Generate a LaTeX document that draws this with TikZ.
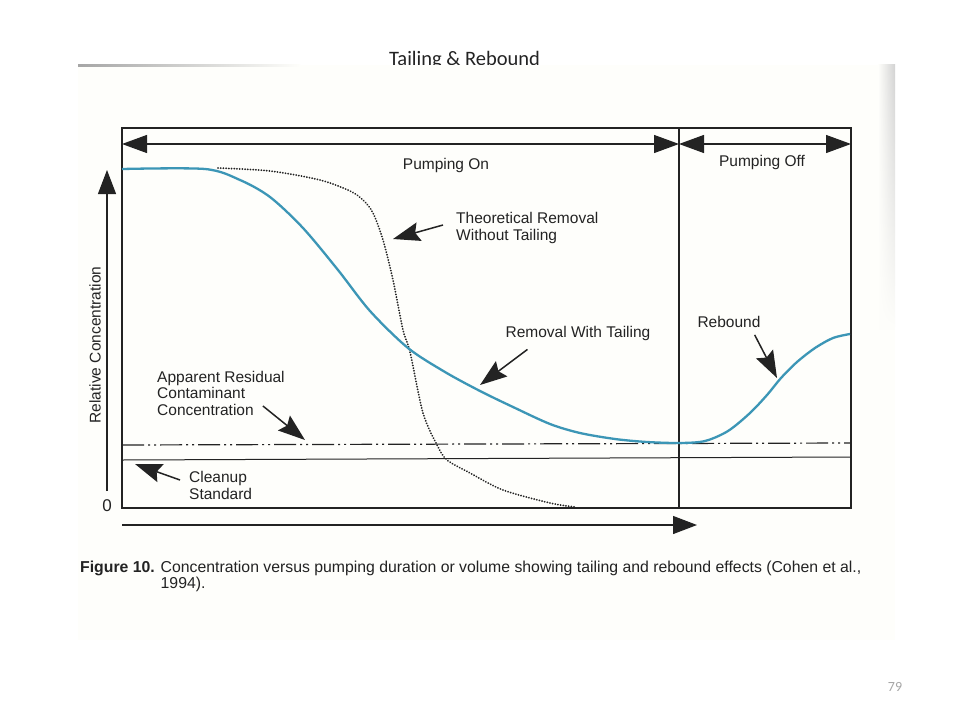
\documentclass[tikz,border=0pt]{standalone}
\usepackage{fontspec}
\setmainfont{Liberation Sans}
\newfontfamily\slidefont{Carlito}
\usetikzlibrary{arrows.meta,fadings}
\definecolor{scanbg}{RGB}{254,254,251}
\definecolor{tailblue}{RGB}{60,150,182}
\definecolor{ink}{RGB}{35,35,35}
\newcommand{\labfont}{\fontsize{15.5}{16.5}\selectfont}

\begin{document}
\begin{tikzpicture}[x=1pt, y=-1pt, font=\labfont,
    lab/.style={inner sep=0pt, text=ink},
    frame/.style={line width=1.8pt, draw=ink},
    span/.style={line width=1.2pt, draw=ink, {Triangle[length=25pt,width=18pt]}-{Triangle[length=25pt,width=18pt]}},
    axis/.style={line width=1.2pt, draw=ink, -{Triangle[length=24pt,width=18pt]}},
    note/.style={line width=1.5pt, draw=ink, -{Stealth[length=27pt,width=19pt,inset=4pt]}},
    tailing/.style={line width=2.3pt, draw=tailblue},
    theory/.style={line width=2pt, draw=ink, line cap=round, dash pattern=on 0.01pt off 2.7pt},
    residual/.style={line width=1.2pt, draw=ink, dash pattern=on 22pt off 4pt on 2pt off 4pt on 2pt off 4pt}]
    \useasboundingbox (0,0) rectangle (960,720);
    \fill[white] (0,0) rectangle (960,720);

    % slide title, partly hidden by the scan
    \node[lab, anchor=base] (title) at (464.5,65.5) {\slidefont\fontsize{20.5}{24}\selectfont Tailing \& Rebound};
    \fill[scanbg] (78,65) rectangle (895,640);
    \shade[left color=gray!70, right color=scanbg] (78,64.4) rectangle (300,66);
    \shade[left color=scanbg, right color=gray!35, path fading=south] (878,65) rectangle (895,330);

    % frame and pumping periods
    \draw[frame] (122,128) rectangle (851,508);
    \draw[line width=1.2pt, ink] (679,128) -- (679,508);
    \node[lab] (on) at (446,165) {Pumping On};
    \node[lab] (off) at (762,162) {Pumping Off};
    \coordinate (onstart) at (122,144);
    \coordinate (switch) at (679,144);
    \coordinate (offend) at (851,144);
    \draw[span] (onstart) -- (switch);
    \draw[span] (switch) -- (offend);

    % axes
    \coordinate (ybot) at (107,491);
    \coordinate (ytop) at (107,170);
    \coordinate (xleft) at (122,525);
    \coordinate (xright) at (697,525);
    \draw[axis] (ybot) -- (ytop);
    \draw[axis] (xleft) -- (xright);
    \node[lab, rotate=90] (ylab) at (95,345) {Relative Concentration};
    \node[lab] (zero) at (107,506) {\fontsize{17}{18}\selectfont 0};

    % levels
    \draw[residual] (122,445) -- (851,443);
    \draw[line width=1pt, ink] (122,460) -- (851,457);

    % curves
    \draw[theory] plot[smooth, tension=0.5] coordinates {(218,168) (270,171) (320,180) (350,191) (363,200) (373,213) (383,240) (393,280) (403,330) (410,352) (423,413) (437,445) (447,460) (470,473) (503,490) (550,503) (575,507)};
    \draw[tailing] plot[smooth, tension=0.5] coordinates {(122,169) (205,169) (240,180) (270,197) (303,228) (338,270) (370,311) (408,348) (445,372) (480,391) (513,407) (550,424) (580,433) (615,439) (647,442) (680,443) (705,441) (728,431) (750,413) (767,395) (781,378) (797,362) (815,348) (833,338) (850,334)};

    % labels with arrows
    \node[lab, anchor=west, align=left] (theo) at (456,228) {Theoretical Removal\\Without Tailing};
    \node[lab] (with) at (578,333) {Removal With Tailing};
    \node[lab] (rebound) at (729,322) {Rebound};
    \node[lab, anchor=west, align=left] (resid) at (157,393) {Apparent Residual\\Contaminant\\Concentration};
    \node[lab, anchor=west, align=left] (clean) at (189,485.5) {Cleanup\\Standard};
    \coordinate (theotip) at (393,239);
    \coordinate (withtip) at (480,385);
    \coordinate (reboundtip) at (777,378);
    \coordinate (residtip) at (305,440);
    \coordinate (cleantip) at (135,464);
    \draw[note] ([shift={(-13pt,3pt)}]theo.west) -- (theotip);
    \draw[note] ([shift={(22pt,-9pt)}]with.south west) -- (withtip);
    \draw[note] ([shift={(-6pt,-7pt)}]rebound.south east) -- (reboundtip);
    \draw[note] ([shift={(-22pt,-13pt)}]resid.east) -- (residtip);
    \draw[note] ([shift={(-9pt,5.5pt)}]clean.west) -- (cleantip);

    % caption and page number
    \node[lab, anchor=base west] (caption) at (80,572) {\fontsize{15.8}{16}\selectfont\begin{tabular}[t]{@{}l@{ }l@{}}\textbf{Figure 10.} & Concentration versus pumping duration or volume showing tailing and rebound effects (Cohen et al.,\\ & 1994).\end{tabular}};
    \node[lab, text=gray!70] (page) at (895,687) {\slidefont\fontsize{14}{16}\selectfont 79};
\end{tikzpicture}
\end{document}
